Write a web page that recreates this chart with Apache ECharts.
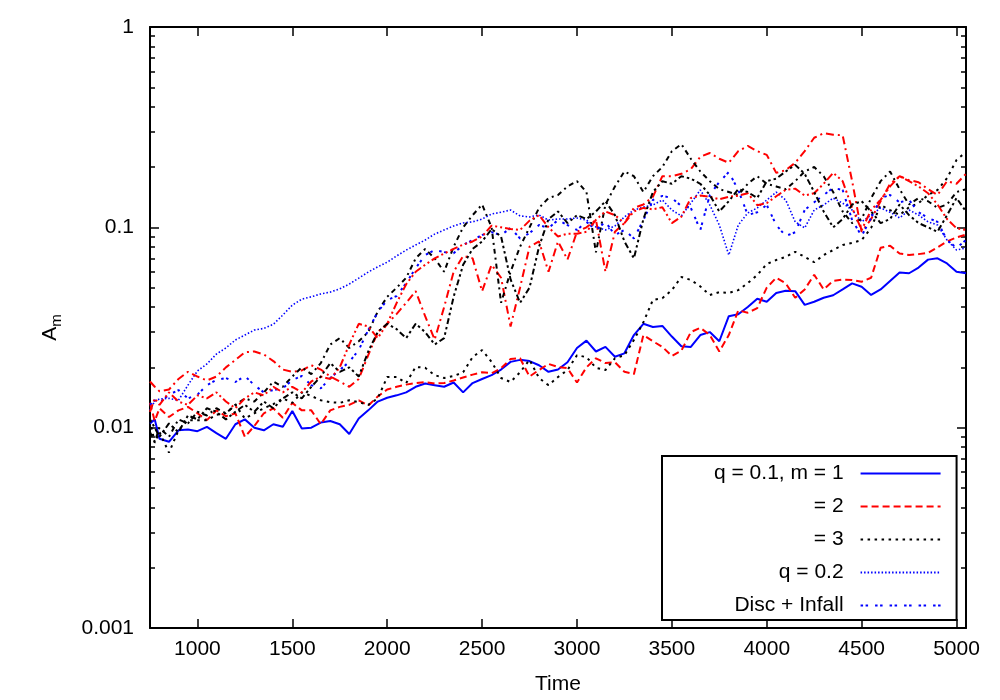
<!DOCTYPE html>
<html><head><meta charset="utf-8">
<script src="https://cdn.jsdelivr.net/npm/echarts@6/dist/echarts.min.js"></script>
<style>html,body{margin:0;padding:0;background:#fff}#c{width:1000px;height:700px}</style>
</head><body><div id="c"></div>
<script>
const times = [750,775,800,850,900,950,1000,1050,1100,1150,
1200,1250,1300,1350,1400,1450,1500,1550,1600,1650,
1700,1750,1800,1850,1900,1950,2000,2050,2100,2150,
2200,2250,2300,2350,2400,2450,2500,2550,2600,2650,
2700,2750,2800,2850,2900,2950,3000,3050,3100,3150,
3200,3250,3300,3350,3400,3450,3500,3550,3600,3650,
3700,3750,3800,3850,3900,3950,4000,4050,4100,4150,
4200,4250,4300,4350,4400,4450,4500,4550,4600,4650,
4700,4750,4800,4850,4900,4950,5000,5050];

// q = 0.1
const q01m1 = [0.0105,0.0110,0.0088,0.0085,0.0097,0.0098,0.0096,0.0101,0.0094,0.0088,
0.0104,0.0110,0.0100,0.0097,0.0104,0.0101,0.0121,0.0099,0.0100,0.0106,
0.0108,0.0104,0.0093,0.0111,0.0122,0.0135,0.0141,0.0145,0.0150,0.0160,
0.0166,0.0163,0.0160,0.0168,0.0150,0.0167,0.0175,0.0183,0.0195,0.0213,
0.0218,0.0215,0.0205,0.0190,0.0195,0.0212,0.0250,0.0272,0.0240,0.0253,
0.0226,0.0235,0.0290,0.0330,0.0318,0.0322,0.0285,0.0255,0.0253,0.0290,
0.0300,0.0270,0.0360,0.0368,0.0400,0.0440,0.0425,0.0470,0.0482,0.0480,
0.0410,0.0425,0.0445,0.0458,0.0490,0.0525,0.0505,0.0460,0.0490,0.0540,
0.0595,0.0590,0.0630,0.0690,0.0700,0.0660,0.0600,0.0590];
const q01m2 = [0.0133,0.0108,0.0125,0.0113,0.0122,0.0127,0.0118,0.0109,0.0122,0.0114,
0.0118,0.0090,0.0102,0.0118,0.0125,0.0112,0.0133,0.0122,0.0122,0.0104,
0.0122,0.0127,0.0130,0.0137,0.0129,0.0143,0.0155,0.0160,0.0164,0.0167,
0.0169,0.0166,0.0167,0.0172,0.0178,0.0184,0.0189,0.0187,0.0198,0.0220,
0.0222,0.0180,0.0194,0.0208,0.0201,0.0198,0.0168,0.0200,0.0222,0.0210,
0.0212,0.0190,0.0185,0.0290,0.0270,0.0253,0.0228,0.0242,0.0300,0.0315,
0.0290,0.0240,0.0290,0.0385,0.0375,0.0395,0.0500,0.0560,0.0525,0.0445,
0.0490,0.0580,0.0490,0.0540,0.0548,0.0546,0.0535,0.0560,0.0790,0.0810,
0.0740,0.0728,0.0735,0.0745,0.0795,0.0850,0.0890,0.0920];
const q01m3 = [0.0109,0.0084,0.0095,0.0075,0.0097,0.0109,0.0109,0.0109,0.0116,0.0118,
0.0130,0.0111,0.0118,0.0125,0.0131,0.0140,0.0133,0.0150,0.0144,0.0137,
0.0134,0.0133,0.0137,0.0134,0.0130,0.0140,0.0179,0.0179,0.0167,0.0201,
0.0199,0.0183,0.0177,0.0181,0.0189,0.0225,0.0244,0.0213,0.0177,0.0169,
0.0189,0.0218,0.0177,0.0163,0.0179,0.0194,0.0230,0.0225,0.0199,0.0194,
0.0222,0.0230,0.0274,0.0336,0.0434,0.0443,0.0486,0.0565,0.0546,0.0507,
0.0459,0.0475,0.0470,0.0486,0.0527,0.0578,0.0656,0.0687,0.0712,0.0755,
0.0712,0.0670,0.0727,0.0770,0.0816,0.0836,0.0864,0.0993,0.1293,0.1220,
0.1152,0.1260,0.1320,0.1450,0.1536,0.1760,0.2168,0.2380];
// q = 0.2
const q02m1 = [0.0122,0.0136,0.0139,0.0140,0.0137,0.0163,0.0192,0.0208,0.0233,0.0250,
0.0274,0.0290,0.0307,0.0313,0.0328,0.0365,0.0409,0.0438,0.0450,0.0465,
0.0475,0.0493,0.0521,0.0558,0.0598,0.0635,0.0670,0.0720,0.0770,0.0816,
0.0864,0.0925,0.0970,0.1016,0.1052,0.1065,0.1100,0.1165,0.1190,0.1220,
0.1140,0.1127,0.1152,0.1087,0.1100,0.1100,0.1114,0.1087,0.1003,0.0970,
0.1016,0.1127,0.1220,0.1262,0.1293,0.1369,0.1220,0.1140,0.1320,0.1536,
0.1293,0.1027,0.0727,0.1027,0.1180,0.1250,0.1369,0.1500,0.1369,0.1065,
0.0993,0.1220,0.1293,0.1400,0.1320,0.1220,0.1065,0.1152,0.1250,0.1190,
0.1114,0.1220,0.1152,0.1065,0.1027,0.0864,0.0770,0.0790];
const q02m2 = [0.0170,0.0160,0.0152,0.0155,0.0175,0.0190,0.0180,0.0172,0.0180,0.0200,
0.0218,0.0238,0.0240,0.0232,0.0215,0.0195,0.0190,0.0193,0.0205,0.0195,
0.0180,0.0170,0.0160,0.0175,0.0230,0.0300,0.0330,0.0370,0.0420,0.0480,
0.0360,0.0275,0.0400,0.0600,0.0720,0.0700,0.0480,0.0650,0.0560,0.0320,
0.0500,0.0800,0.0850,0.0600,0.0850,0.0690,0.0950,0.1000,0.1090,0.0600,
0.0950,0.1050,0.1250,0.1300,0.1420,0.1800,0.1800,0.1850,0.1950,0.2250,
0.2350,0.2200,0.2100,0.2400,0.2550,0.2400,0.2300,0.1870,0.1930,0.2100,
0.2400,0.2800,0.2950,0.2900,0.2880,0.1700,0.0950,0.1100,0.1350,0.1650,
0.1800,0.1720,0.1680,0.1550,0.1450,0.1700,0.1650,0.1850];
const q02m3 = [0.0095,0.0085,0.0100,0.0090,0.0110,0.0105,0.0120,0.0115,0.0125,0.0118,
0.0130,0.0140,0.0135,0.0150,0.0170,0.0160,0.0180,0.0200,0.0185,0.0210,
0.0260,0.0280,0.0250,0.0270,0.0300,0.0380,0.0450,0.0500,0.0560,0.0700,
0.0780,0.0700,0.0600,0.0800,0.1000,0.1150,0.1300,0.1000,0.0420,0.0600,
0.0800,0.1000,0.1250,0.1400,0.1450,0.1600,0.1700,0.1500,0.0750,0.1300,
0.1600,0.1900,0.1800,0.1500,0.1800,0.2000,0.2400,0.2600,0.2200,0.1900,
0.1700,0.1550,0.1500,0.1450,0.1650,0.1800,0.1650,0.1600,0.1550,0.1700,
0.1900,0.2000,0.1800,0.1500,0.1200,0.1050,0.1100,0.1400,0.1700,0.1900,
0.1550,0.1300,0.1400,0.1350,0.1250,0.1300,0.1500,0.1550];
// Disc + Infall
const dim1 = [0.0130,0.0137,0.0133,0.0146,0.0154,0.0140,0.0146,0.0163,0.0173,0.0177,
0.0169,0.0181,0.0163,0.0150,0.0154,0.0157,0.0173,0.0181,0.0163,0.0157,
0.0177,0.0194,0.0213,0.0244,0.0307,0.0378,0.0434,0.0454,0.0527,0.0626,
0.0727,0.0770,0.0752,0.0743,0.0816,0.0864,0.0915,0.0945,0.0915,0.0993,
0.0880,0.0935,0.1027,0.0993,0.1087,0.1027,0.0970,0.1065,0.0970,0.1065,
0.0915,0.0970,0.0880,0.1087,0.1369,0.1436,0.1400,0.1277,0.1250,0.0970,
0.1450,0.1685,0.1887,0.1536,0.1152,0.1190,0.1293,0.1027,0.0905,0.0945,
0.1220,0.1333,0.1450,0.1575,0.1536,0.1087,0.0905,0.1114,0.1400,0.1450,
0.1333,0.1369,0.1190,0.1114,0.1065,0.0864,0.0790,0.0864];
const dim2 = [0.0120,0.0140,0.0130,0.0150,0.0135,0.0130,0.0145,0.0140,0.0150,0.0135,
0.0125,0.0140,0.0150,0.0145,0.0160,0.0150,0.0160,0.0150,0.0170,0.0180,
0.0175,0.0200,0.0260,0.0330,0.0320,0.0280,0.0330,0.0420,0.0520,0.0600,
0.0650,0.0700,0.0740,0.0780,0.0820,0.0850,0.0900,0.1020,0.1000,0.0980,
0.0970,0.1080,0.1150,0.1000,0.0900,0.0930,0.0930,0.0950,0.1090,0.1200,
0.1150,0.1050,0.1200,0.1250,0.1230,0.1260,0.1050,0.1130,0.1400,0.1440,
0.1420,0.1380,0.1420,0.1440,0.1480,0.1290,0.1320,0.1430,0.1540,0.1560,
0.1440,0.1480,0.1650,0.1870,0.1700,0.1250,0.0970,0.1220,0.1370,0.1600,
0.1800,0.1700,0.1600,0.1480,0.1300,0.1100,0.0990,0.0970];
const dim3 = [0.0110,0.0100,0.0090,0.0105,0.0095,0.0115,0.0110,0.0125,0.0120,0.0110,
0.0120,0.0130,0.0120,0.0135,0.0125,0.0140,0.0150,0.0140,0.0160,0.0180,
0.0210,0.0190,0.0200,0.0180,0.0240,0.0300,0.0330,0.0310,0.0280,0.0330,
0.0300,0.0260,0.0280,0.0450,0.0650,0.0780,0.0850,0.0980,0.0900,0.0550,
0.0420,0.0500,0.0800,0.1100,0.1200,0.1050,0.1150,0.1100,0.1200,0.1350,
0.1150,0.0850,0.0700,0.1100,0.1500,0.1700,0.1650,0.1800,0.1750,0.1650,
0.1450,0.1200,0.1350,0.1550,0.1500,0.1400,0.1700,0.1750,0.1900,0.2050,
0.1850,0.1500,0.1200,0.1000,0.1100,0.1300,0.1350,0.1200,0.1050,0.1100,
0.1300,0.1150,0.1050,0.1000,0.0950,0.1150,0.1400,0.1200];

const xTicks = [1000,1500,2000,2500,3000,3500,4000,4500,5000];
const yMajor = [0.001,0.01,0.1,1];
const yLabels = ['0.001','0.01','0.1','1'];
const yMinor = [0.002,0.003,0.004,0.005,0.006,0.007,0.008,0.009,
0.02,0.03,0.04,0.05,0.06,0.07,0.08,0.09,
0.2,0.3,0.4,0.5,0.6,0.7,0.8,0.9];
const legendNames = ['q = 0.1, m = 1','= 2','= 3','q = 0.2','Disc + Infall'];

const FONT = 'Liberation Sans';
const BLUE = '#0000ff', RED = '#ff0000', BLACK = '#000000';

const defs = [
  {name:'q = 0.1, m = 1', v:q01m1, c:BLUE, t:'solid', w:2},
  {name:'= 2', v:q01m2, c:RED, t:[7,4], w:2},
  {name:'= 3', v:q01m3, c:BLACK, t:[2.5,4.5], w:2},
  {name:'q = 0.2', v:q02m1, c:BLUE, t:[1.5,2], w:1.6},
  {name:'q = 0.2, m = 2', v:q02m2, c:RED, t:[8,4,2,4], w:2},
  {name:'q = 0.2, m = 3', v:q02m3, c:BLACK, t:[5,4,2,4], w:2},
  {name:'Disc + Infall', v:dim1, c:BLUE, t:[2.5,2.5,2.5,7], w:2},
  {name:'Disc + Infall, m = 2', v:dim2, c:RED, t:[8,3,2,3,2,3], w:2},
  {name:'Disc + Infall, m = 3', v:dim3, c:BLACK, t:[2.5,3,2.5,3,6,3], w:2}
];

const series = defs.map(d => ({
  name: d.name, type:'line', xAxisIndex:0, yAxisIndex:0,
  data: times.map((t,i)=>[t, d.v[i]]),
  symbol:'none', showSymbol:false, smooth:false, animation:false,
  color: d.c,
  lineStyle:{color:d.c, width:d.w, type:d.t}
}));

const axisLineStyle = {show:true, onZero:false, lineStyle:{color:'#000', width:2}};
const xBase = {type:'value', min:750, max:5050, splitLine:{show:false}};
const yBase = {type:'log', logBase:10, min:0.001, max:1, splitLine:{show:false}};

const chart = echarts.init(document.getElementById('c'), null, {renderer:'canvas'});
chart.setOption({
  animation:false,
  backgroundColor:'#fff',
  grid:[
    {left:150, right:34, top:27, bottom:72, containLabel:false},
    {left:150, right:34, top:27, bottom:72, containLabel:false}
  ],
  xAxis:[
    Object.assign({}, xBase, {gridIndex:0, position:'bottom',
      axisLine:axisLineStyle,
      axisTick:{show:true, inside:true, length:9, customValues:xTicks, lineStyle:{color:'#000', width:1.5}},
      axisLabel:{show:true, customValues:xTicks, color:'#000', fontSize:21, fontFamily:FONT, margin:11,
        formatter:function(v){ return String(Math.round(v)); }},
      name:'Time', nameLocation:'middle', nameGap:46,
      nameTextStyle:{color:'#000', fontSize:21, fontFamily:FONT}}),
    Object.assign({}, xBase, {gridIndex:0, position:'top',
      axisLine:axisLineStyle,
      axisTick:{show:true, inside:true, length:9, customValues:xTicks, lineStyle:{color:'#000', width:1.5}},
      axisLabel:{show:false}}),
    Object.assign({}, xBase, {gridIndex:1, show:false})
  ],
  yAxis:[
    Object.assign({}, yBase, {gridIndex:0, position:'left',
      axisLine:axisLineStyle,
      axisTick:{show:true, inside:true, length:9, customValues:yMajor, lineStyle:{color:'#000', width:1.5}},
      axisLabel:{show:true, customValues:yMajor, color:'#000', fontSize:21, fontFamily:FONT, margin:16,
        formatter:function(v){ const i = yMajor.findIndex(m => Math.abs(m - v) < m*1e-6); return i >= 0 ? yLabels[i] : ''; }},
      name:'{a|A}{b|m}', nameLocation:'middle', nameGap:88, nameRotate:90,
      nameTextStyle:{rich:{
        a:{fontSize:21, fontFamily:FONT, color:'#000', lineHeight:24},
        b:{fontSize:15, fontFamily:FONT, color:'#000', lineHeight:15, padding:[13,0,0,0]}
      }}}),
    Object.assign({}, yBase, {gridIndex:0, position:'right',
      axisLine:axisLineStyle,
      axisTick:{show:true, inside:true, length:9, customValues:yMajor, lineStyle:{color:'#000', width:1.5}},
      axisLabel:{show:false}}),
    Object.assign({}, yBase, {gridIndex:1, position:'left',
      axisLine:{show:false},
      axisTick:{show:true, inside:true, length:5, customValues:yMinor, lineStyle:{color:'#000', width:1.5}},
      axisLabel:{show:false}}),
    Object.assign({}, yBase, {gridIndex:1, position:'right',
      axisLine:{show:false},
      axisTick:{show:true, inside:true, length:5, customValues:yMinor, lineStyle:{color:'#000', width:1.5}},
      axisLabel:{show:false}})
  ],
  legend:{
    data:legendNames, orient:'vertical', left:662, top:456, align:'right',
    itemWidth:80, itemHeight:20, itemGap:12, selectedMode:false,
    padding:[7,15,4,52],
    itemStyle:{opacity:0},
    backgroundColor:'#fff', borderColor:'#000', borderWidth:2, borderRadius:0,
    textStyle:{color:'#000', fontSize:21, fontFamily:FONT, padding:[0,12,0,0]}
  },
  series: series
});
</script>
</body></html>
